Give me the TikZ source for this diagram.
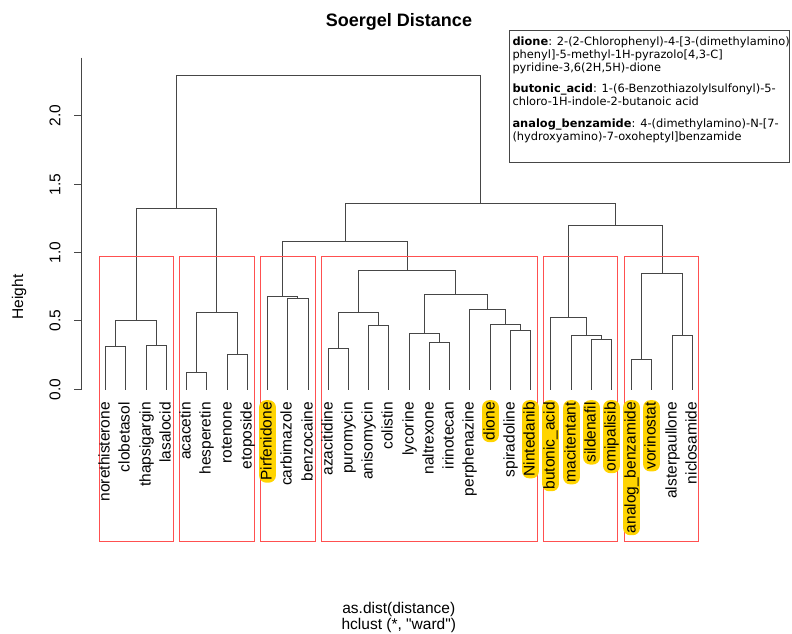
\documentclass[tikz,border=0pt]{standalone}
\usepackage{fontspec}
\setmainfont{Liberation Sans}
\newfontfamily\rawfont{Liberation Sans}[Ligatures=TeXOff]
\newfontfamily\legfont{DejaVu Sans}
\definecolor{dendro}{RGB}{70,70,70}
\definecolor{boxred}{RGB}{255,80,80}
\definecolor{hlgold}{RGB}{255,212,0}
\begin{document}
\begin{tikzpicture}[x=1pt,y=-1pt,
  dline/.style={draw=dendro,line width=1pt},
  grpbox/.style={draw=boxred,line width=1pt},
  leaflab/.style={rotate=90,anchor=east,font=\fontsize{15.5}{18}\selectfont,inner xsep=2pt,inner ysep=1.2pt,text height=11.2pt,text depth=3.2pt},
  hl/.style={leaflab,fill=hlgold,rounded corners=7pt},
  ticklab/.style={rotate=90,anchor=center,font=\fontsize{15.5}{18}\selectfont,inner sep=0pt},
  legtext/.style={anchor=base west,font=\legfont\fontsize{11.4}{13}\selectfont,inner sep=0pt}]
\useasboundingbox (0,0) rectangle (792,633);
\fill[white] (0,0) rectangle (792,633);
% title
\node[anchor=base,font=\bfseries\fontsize{18}{21}\selectfont,inner sep=0pt] (title) at (399,26.7) {Soergel Distance};
% axis
\coordinate (axtop) at (81.5,57.5);
\coordinate (axbot) at (81.5,389.5);
\draw[dline] (axtop) -- (axbot);
\foreach \yy/\lab in {389.5/0.0,320.5/0.5,252.5/1.0,184.5/1.5,115.5/2.0}{
  \draw[dline] (74,\yy) -- (81.5,\yy);
  \node[ticklab] at (55,\yy) {\lab};
}
\node[ticklab] (ylab) at (19,297) {Height};
% leaves
\foreach \i/\xx in {0/105.5,1/125.5,2/146.5,3/166.5,4/186.5,5/206.5,6/227.5,7/247.5,8/267.5,9/287.5,10/308.5,11/328.5,12/348.5,13/368.5,14/388.5,15/409.5,16/429.5,17/449.5,18/469.5,19/490.5,20/510.5,21/530.5,22/550.5,23/571.5,24/591.5,25/611.5,26/631.5,27/651.5,28/672.5,29/692.5}{
  \coordinate (L\i) at (\xx,389.5);
}
% merges
\coordinate (g1a) at (115.5,346.5);
\coordinate (g1b) at (156.5,345.5);
\coordinate (g1) at (136.5,320.5);
\coordinate (g2a) at (196.5,372.5);
\coordinate (g2b) at (237.5,354.5);
\coordinate (g2) at (216.5,312.5);
\coordinate (g12) at (176.5,208.5);
\coordinate (g3a) at (297.5,298.5);
\coordinate (g3) at (282.5,296.5);
\coordinate (g4a) at (338.5,348.5);
\coordinate (g4b) at (378.5,325.5);
\coordinate (g4ab) at (358.5,312.5);
\coordinate (g4c) at (439.5,342.5);
\coordinate (g4d) at (424.5,333.5);
\coordinate (g4e) at (520.5,330.5);
\coordinate (g4f) at (505.5,324.5);
\coordinate (g4g) at (487.5,309.5);
\coordinate (g4h) at (455.5,294.5);
\coordinate (g4) at (407.5,270.5);
\coordinate (g34) at (345.5,241.5);
\coordinate (g5a) at (601.5,339.5);
\coordinate (g5b) at (586.5,335.5);
\coordinate (g5) at (568.5,317.5);
\coordinate (g6a) at (641.5,359.5);
\coordinate (g6b) at (682.5,335.5);
\coordinate (g6) at (662.5,273.5);
\coordinate (g56) at (615.5,225.5);
\coordinate (gR) at (480.5,203.5);
\coordinate (root) at (328.5,75.5);
\foreach \a/\m/\b in {L0/g1a/L1,L2/g1b/L3,g1a/g1/g1b,L4/g2a/L5,L6/g2b/L7,g2a/g2/g2b,g1/g12/g2,
  L9/g3a/L10,L8/g3/g3a,L11/g4a/L12,L13/g4b/L14,g4a/g4ab/g4b,L16/g4c/L17,L15/g4d/g4c,
  L20/g4e/L21,L19/g4f/g4e,L18/g4g/g4f,g4d/g4h/g4g,g4ab/g4/g4h,g3/g34/g4,
  L24/g5a/L25,L23/g5b/g5a,L22/g5/g5b,L26/g6a/L27,L28/g6b/L29,g6a/g6/g6b,g5/g56/g6,
  g34/gR/g56,g12/root/gR}{
  \draw[dline] (\a) |- (\m) -| (\b);
}
% group boxes
\draw[grpbox] (99.5,256.5) rectangle (173.5,541.5);
\draw[grpbox] (179.5,256.5) rectangle (254.5,541.5);
\draw[grpbox] (260.5,256.5) rectangle (315.5,541.5);
\draw[grpbox] (321.5,256.5) rectangle (537.5,541.5);
\draw[grpbox] (543.5,256.5) rectangle (617.5,541.5);
\draw[grpbox] (624.5,256.5) rectangle (698.5,541.5);
% labels
\foreach \i/\nm/\st in {0/norethisterone/leaflab,1/clobetasol/leaflab,2/thapsigargin/leaflab,3/lasalocid/leaflab,
  4/acacetin/leaflab,5/hesperetin/leaflab,6/rotenone/leaflab,7/etoposide/leaflab,
  8/Pirfenidone/hl,9/carbimazole/leaflab,10/benzocaine/leaflab,
  11/azacitidine/leaflab,12/puromycin/leaflab,13/anisomycin/leaflab,14/colistin/leaflab,15/lycorine/leaflab,
  16/naltrexone/leaflab,17/irinotecan/leaflab,18/perphenazine/leaflab,19/dione/hl,20/spiradoline/leaflab,21/Nintedanib/hl,
  22/butonic\_acid/hl,23/macitentant/hl,24/sildenafil/hl,25/omipalisib/hl,
  26/analog\_benzamide/hl,27/vorinostat/hl,28/alsterpaullone/leaflab,29/niclosamide/leaflab}{
  \path (L\i) ++(0,10.5) node[\st] (T\i) {\nm};
}
% bottom labels
\node[anchor=base,font=\fontsize{15.5}{18}\selectfont,inner sep=0pt] (sub1) at (398.8,613.5) {as.dist(distance)};
\node[anchor=base,font=\rawfont\fontsize{15.5}{18}\selectfont,inner sep=0pt] (sub2) at (398.8,629) {hclust (*, "ward")};
% legend
\draw[draw=dendro,line width=1pt] (509.5,30.5) rectangle (789.5,162.5);
\node[legtext] (l1) at (512.3,45) {\textbf{dione}: 2-(2-Chlorophenyl)-4-[3-(dimethylamino)};
\node[legtext] (l2) at (512.3,58.5) {phenyl]-5-methyl-1H-pyrazolo[4,3-C]};
\node[legtext] (l3) at (512.3,71.5) {pyridine-3,6(2H,5H)-dione};
\node[legtext] (l4) at (512.3,92.7) {\textbf{butonic\_acid}: 1-(6-Benzothiazolylsulfonyl)-5-};
\node[legtext] (l5) at (512.3,105.3) {chloro-1H-indole-2-butanoic acid};
\node[legtext] (l6) at (512.3,127.3) {\textbf{analog\_benzamide}: 4-(dimethylamino)-N-[7-};
\node[legtext] (l7) at (512.3,140) {(hydroxyamino)-7-oxoheptyl]benzamide};
\end{tikzpicture}
\end{document}
